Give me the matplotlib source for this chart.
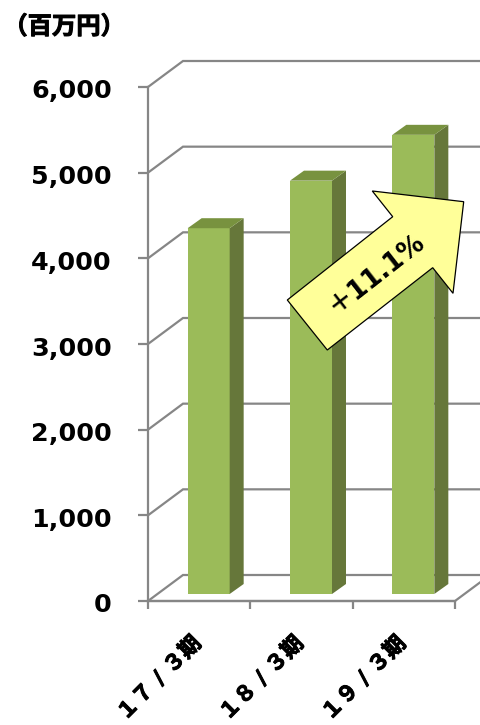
import matplotlib
matplotlib.use('Agg')
import matplotlib.pyplot as plt
import matplotlib.patheffects as pe
from matplotlib.patches import Polygon
from matplotlib.transforms import ScaledTranslation

plt.rcParams['font.family'] = ['DejaVu Sans', 'Noto Sans CJK JP']

periods = ['１７ / ３期', '１８ / ３期', '１９ / ３期']
sales = [4270, 4825, 5360]
yticks = [0, 1000, 2000, 3000, 4000, 5000, 6000]
growth = '＋11.1%'
unit = '（百万円）'

W, H = 481, 725
fig = plt.figure(figsize=(W / 100, H / 100), dpi=100, facecolor='w')

# axes rectangle is the front plane of the fake 3d box
left, right, top, bottom = 148.0, 455.0, 87.0, 601.0
ax = fig.add_axes([left / W, 1 - bottom / H, (right - left) / W, (bottom - top) / H])
ax.set_xlim(0, 3)
ax.set_ylim(0, 6000)
ax.patch.set_visible(False)

# box depth and bar placement, in data units
px_x = 3 / (right - left)
px_y = 6000 / (bottom - top)
dx, dy = 35 * px_x, 26 * px_y
bar_w = 42 * px_x
bar_dx, bar_dy = 14 * px_x, 10 * px_y
base_x, base_y = 9.5 * px_x, 7 * px_y

grid = '#868686'
lw = 1.6

# CJK face only has a regular weight here, thicken it with a stroke
heavy = [pe.withStroke(linewidth=0.7, foreground='k')]

# gridlines running along the floor, slanting back from the left wall
for v in yticks:
    ax.plot([0, dx, 3 + dx], [v, v + dy, v + dy], color=grid, lw=lw, clip_on=False,
            solid_capstyle='butt', solid_joinstyle='miter', zorder=1)
ax.plot([0, 3, 3 + dx], [0, 0, dy], color=grid, lw=lw, clip_on=False, zorder=1)

# bars: front face, side, top
front, side, cap = '#9BBB59', '#66773A', '#78923F'
for i, v in enumerate(sales):
    x0 = i + 0.5 - bar_w / 2 + base_x
    x1 = x0 + bar_w
    y0 = base_y
    y1 = base_y + v
    ax.bar(x0, v, width=bar_w, bottom=y0, align='edge', color=front, lw=0, zorder=3)
    ax.add_patch(Polygon([(x1, y0), (x1 + bar_dx, y0 + bar_dy), (x1 + bar_dx, y1 + bar_dy), (x1, y1)],
                         closed=True, fc=side, lw=0, zorder=3, clip_on=False))
    ax.add_patch(Polygon([(x0, y1), (x0 + bar_dx, y1 + bar_dy), (x1 + bar_dx, y1 + bar_dy), (x1, y1)],
                         closed=True, fc=cap, lw=0, zorder=3, clip_on=False))

for s in ['top', 'right']:
    ax.spines[s].set_visible(False)
for s in ['left', 'bottom']:
    ax.spines[s].set_color(grid)
    ax.spines[s].set_linewidth(lw)

ax.set_yticks(yticks)
ax.set_yticklabels(['{:,}'.format(v) for v in yticks], fontsize=18.3, fontweight='bold', color='k')
ax.tick_params(axis='y', length=7, width=lw, color=grid, pad=19)
shift = ScaledTranslation(0, -2 / 100, fig.dpi_scale_trans)
for t in ax.get_yticklabels():
    t.set_transform(t.get_transform() + shift)
ax.set_xticks([0, 1, 2, 3])
ax.set_xticklabels([])
ax.tick_params(axis='x', length=5.5, width=lw, color=grid)

# rotated category labels end just under each bar
for i, p in enumerate(periods):
    ax.annotate(p, xy=(i + 0.5, 0), xycoords='data', xytext=(-6, -23), textcoords='offset points',
                rotation=45, rotation_mode='anchor', ha='right', va='top',
                fontsize=15.5, fontweight='bold', color='k', annotation_clip=False,
                path_effects=heavy)

fig.text(64 / W, 1 - 27 / H, unit, ha='center', va='center', fontsize=17.5, fontweight='bold',
         family=['Noto Sans CJK JP', 'DejaVu Sans'], path_effects=heavy)

# growth arrow, laid out in figure pixels
arrow_px = [(463.7, 201.7), (372.3, 191), (392.7, 216.7), (287.3, 300),
            (327.3, 350), (432.7, 267.7), (453, 293.3)]
fig.add_artist(Polygon([(x / W, 1 - y / H) for x, y in arrow_px], closed=True,
                       transform=fig.transFigure, fc='#FFFF99', ec='k', lw=0.9, zorder=5))
fig.text(376 / W, 1 - 274 / H, growth, rotation=38, rotation_mode='anchor', ha='center', va='center',
         fontsize=18.5, fontweight='bold', zorder=6)

fig.savefig('out.png', dpi=100)
